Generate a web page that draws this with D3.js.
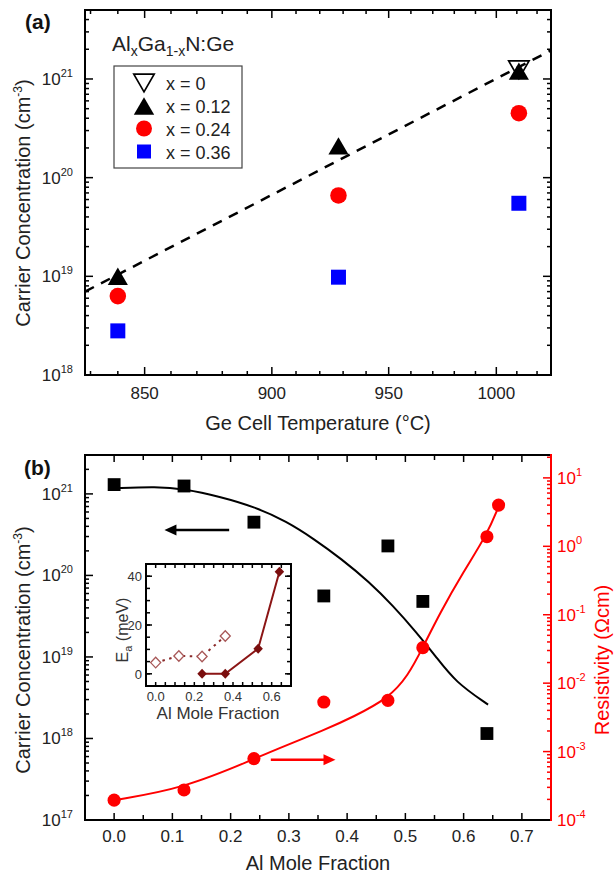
<!DOCTYPE html>
<html><head><meta charset="utf-8">
<script src="https://cdn.jsdelivr.net/npm/d3@7"></script>
<style>
body{margin:0;background:#fff;}
svg{display:block;}
text{font-family:"Liberation Sans",Arial,Helvetica,sans-serif;}
</style>
</head><body>
<svg id="c" width="614" height="880"></svg>
<script>
// ================= DATA =================
// Panel (a): carrier concentration vs Ge cell temperature
const tempA = [840, 928, 1011];
const concX0   = [null, null, 1.24e21];
const concX012 = [1.0e19, 2.1e20, 1.2e21];
const concX024 = [6.3e18, 6.6e19, 4.5e20];
const concX036 = [2.8e18, 9.8e18, 5.5e19];
const fitTempA = [828, 1027];
const fitConcA = [7.0e18, 1.95e21];
const tempTickMajor = [850, 900, 950, 1000];
const tempTickLabels = ["850", "900", "950", "1000"];
const legendLabelsA = ["x = 0", "x = 0.12", "x = 0.24", "x = 0.36"];

// Panel (b): carrier concentration & resistivity vs Al mole fraction
const alFrac   = [0, 0.12, 0.24, 0.36, 0.47, 0.53, 0.64];
const concB    = [1.3e21, 1.25e21, 4.5e20, 5.6e19, 2.3e20, 4.8e19, 1.15e18];
const resX     = [0, 0.12, 0.24, 0.36, 0.47, 0.53, 0.64, 0.66];
const resV     = [1.95e-4, 2.75e-4, 7.9e-4, 5.3e-3, 5.6e-3, 3.3e-2, 1.38, 4.0];
const fitConcX = [0, 0.073, 0.12, 0.181, 0.242, 0.296, 0.343, 0.39, 0.438, 0.478, 0.519, 0.552, 0.586, 0.642];
const fitConcY = [1.17e21, 1.23e21, 1.15e21, 9.3e20, 6.9e20, 4.6e20, 2.8e20, 1.6e20, 8.3e19, 4.3e19, 2.0e19, 1.02e19, 4.9e18, 2.6e18];
const fitResX  = [0, 0.12, 0.242, 0.275, 0.363, 0.41, 0.471, 0.505, 0.529, 0.559, 0.6, 0.64, 0.66];
const fitResY  = [1.95e-4, 2.9e-4, 7.9e-4, 1.05e-3, 2.1e-3, 3.2e-3, 6.0e-3, 1.3e-2, 3.2e-2, 0.105, 0.43, 1.48, 3.8];
const alTicks  = [0, 0.1, 0.2, 0.3, 0.4, 0.5, 0.6, 0.7];
const alTickLabels = ["0.0", "0.1", "0.2", "0.3", "0.4", "0.5", "0.6", "0.7"];
const arrowConc = {x: [0.1975, 0.0864], y: 3.6e20};
const arrowRes  = {x: [0.269, 0.380], y: 7.6e-4};

// Inset: activation energy
const insetOpenX   = [0, 0.12, 0.24, 0.36];
const insetOpenY   = [4.6, 7.3, 7.1, 15.5];
const insetFilledX = [0.24, 0.36, 0.53, 0.64];
const insetFilledY = [0, 0, 10.3, 41.8];
const insetXTicks  = [0, 0.2, 0.4, 0.6];
const insetXLabels = ["0.0", "0.2", "0.4", "0.6"];
const insetYTicks  = [0, 20, 40];
const insetYLabels = ["0", "20", "40"];

// ================= HELPERS =================
const svg = d3.select("#c");
function logTickVals(lo, hi) {
  const major = [], minor = [];
  for (let e = Math.floor(Math.log10(lo)); e <= Math.ceil(Math.log10(hi)); e++) {
    for (let k = 1; k < 10; k++) {
      const v = k * Math.pow(10, e);
      if (v >= lo * 0.999 && v <= hi * 1.001) (k === 1 ? major : minor).push(v);
    }
  }
  return {major, minor};
}
function ticksY(g, scale, vals, x, dir, len, color) {
  g.append("g").selectAll("line").data(vals).join("line")
    .attr("x1", x).attr("x2", x + dir * len)
    .attr("y1", d => scale(d)).attr("y2", d => scale(d))
    .attr("stroke", color).attr("stroke-width", 1.5);
}
function ticksX(g, fx, vals, y, dir, len, color) {
  g.append("g").selectAll("line").data(vals).join("line")
    .attr("y1", y).attr("y2", y + dir * len)
    .attr("x1", d => fx(d)).attr("x2", d => fx(d))
    .attr("stroke", color).attr("stroke-width", 1.5);
}
function powLabel(g, x, y, exp, anchor, color) {
  const t = g.append("text").attr("x", x).attr("y", y).attr("text-anchor", anchor)
    .attr("fill", color).style("font-size", "17px");
  t.append("tspan").text("10");
  t.append("tspan").attr("dy", -8).style("font-size", "11px").text(exp);
}
const triUp = {draw(ctx, size){ const s = Math.sqrt(size / 0.433), h = s * 0.866;
  ctx.moveTo(0, -h/2); ctx.lineTo(s/2, h/2); ctx.lineTo(-s/2, h/2); ctx.closePath(); }};
const triDown = {draw(ctx, size){ const s = Math.sqrt(size / 0.433), h = s * 0.866;
  ctx.moveTo(0, h/2); ctx.lineTo(s/2, -h/2); ctx.lineTo(-s/2, -h/2); ctx.closePath(); }};
const diamond = {draw(ctx, size){ const r = Math.sqrt(size / 2);
  ctx.moveTo(0, -r); ctx.lineTo(r*0.95, 0); ctx.lineTo(0, r); ctx.lineTo(-r*0.95, 0); ctx.closePath(); }};

// ================= PANEL (a) =================
const A = {l: 85, r: 551, t: 10, b: 375};
const invT = t => 1 / (t + 273.15);
const xInv = d3.scaleLinear().domain([invT(828), invT(1027)]).range([A.l, A.r]);
const xA = t => xInv(invT(t));
const yA = d3.scaleLog().domain([1e18, 5e21]).range([A.b, A.t]);
const gA = svg.append("g");

// dashed fit
gA.append("path")
  .attr("d", d3.line().x(d => xA(d[0])).y(d => yA(d[1]))(fitTempA.map((t, i) => [t, fitConcA[i]])))
  .attr("fill", "none").attr("stroke", "#000").attr("stroke-width", 2.5).attr("stroke-dasharray", "10,8");

// markers
const sym = d3.symbol();
function markersA(vals, type, size, fill, stroke, sw) {
  gA.append("g").selectAll("path").data(tempA.map((t, i) => [t, vals[i]]).filter(d => d[1] != null))
    .join("path")
    .attr("transform", d => `translate(${xA(d[0])},${yA(d[1])})`)
    .attr("d", sym.type(type).size(size)())
    .attr("fill", fill).attr("stroke", stroke).attr("stroke-width", sw);
}
markersA(concX036, d3.symbolSquare, 225, "#0000ff", "none", 0);
markersA(concX024, d3.symbolCircle, 215, "#ff0000", "none", 0);
markersA(concX012, triUp, 175, "#000", "none", 0);
markersA(concX0, triDown, 180, "none", "#000", 1.7);

// frame & ticks
const tA = logTickVals(1e18, 5e21);
ticksY(gA, yA, tA.major, A.l, 1, 8, "#000");
ticksY(gA, yA, tA.minor, A.l, 1, 4, "#000");
ticksY(gA, yA, tA.major, A.r, -1, 8, "#000");
ticksY(gA, yA, tA.minor, A.r, -1, 4, "#000");
const tempMinor = d3.range(830, 1021, 10).filter(t => !tempTickMajor.includes(t));
ticksX(gA, xA, tempTickMajor, A.b, -1, 8, "#000");
ticksX(gA, xA, tempMinor, A.b, -1, 4, "#000");
ticksX(gA, xA, tempTickMajor, A.t, 1, 8, "#000");
ticksX(gA, xA, tempMinor, A.t, 1, 4, "#000");
gA.append("rect").attr("x", A.l).attr("y", A.t).attr("width", A.r - A.l).attr("height", A.b - A.t)
  .attr("fill", "none").attr("stroke", "#000").attr("stroke-width", 2);

// tick labels
tA.major.forEach(v => powLabel(gA, 73, yA(v) + 6, String(Math.round(Math.log10(v))), "end", "#222"));
gA.append("g").selectAll("text").data(tempTickMajor).join("text")
  .attr("x", d => xA(d)).attr("y", 399).attr("text-anchor", "middle")
  .style("font-size", "17px").attr("fill", "#222").text((d, i) => tempTickLabels[i]);

// axis titles
gA.append("text").attr("x", 318).attr("y", 430).attr("text-anchor", "middle")
  .style("font-size", "20px").attr("fill", "#222").text("Ge Cell Temperature (°C)");
{
  const t = gA.append("text").attr("transform", "translate(30,203) rotate(-90)")
    .attr("text-anchor", "middle").style("font-size", "20px").attr("fill", "#222");
  t.append("tspan").text("Carrier Concentration (cm");
  t.append("tspan").attr("dy", -8).style("font-size", "12px").text("-3");
  t.append("tspan").attr("dy", 8).text(")");
}
gA.append("text").attr("x", 25).attr("y", 29).style("font-size", "21px").style("font-weight", "bold")
  .attr("fill", "#111").text("(a)");

// legend title
{
  const t = gA.append("text").attr("x", 112).attr("y", 51).style("font-size", "21px").attr("fill", "#222");
  t.append("tspan").text("Al");
  t.append("tspan").attr("dy", 5).style("font-size", "14px").text("x");
  t.append("tspan").attr("dy", -5).text("Ga");
  t.append("tspan").attr("dy", 5).style("font-size", "14px").text("1-x");
  t.append("tspan").attr("dy", -5).text("N:Ge");
}
// legend box
gA.append("rect").attr("x", 114).attr("y", 66).attr("width", 128).attr("height", 102)
  .attr("fill", "#fff").attr("stroke", "#444").attr("stroke-width", 1.2);
const legY = [83, 106, 128.5, 151.5];
const legSym = [
  {type: triDown, size: 180, fill: "none", stroke: "#000", sw: 1.7},
  {type: triUp, size: 180, fill: "#000", stroke: "none", sw: 0},
  {type: d3.symbolCircle, size: 200, fill: "#ff0000", stroke: "none", sw: 0},
  {type: d3.symbolSquare, size: 196, fill: "#0000ff", stroke: "none", sw: 0}
];
legSym.forEach((s, i) => {
  gA.append("path").attr("transform", `translate(144,${legY[i]})`)
    .attr("d", d3.symbol().type(s.type).size(s.size)())
    .attr("fill", s.fill).attr("stroke", s.stroke).attr("stroke-width", s.sw);
  gA.append("text").attr("x", 166).attr("y", legY[i] + 7).style("font-size", "18px")
    .attr("fill", "#222").text(legendLabelsA[i]);
});

// ================= PANEL (b) =================
const B = {l: 85, r: 551, t: 455, b: 820};
const xB = d3.scaleLinear().domain([-0.05, 0.75]).range([B.l, B.r]);
const yB = d3.scaleLog().domain([1e17, 3e21]).range([B.b, B.t]);
const yR = d3.scaleLog().domain([1e-4, 21.6]).range([B.b, B.t]);
const gB = svg.append("g");

// fit curves
gB.append("path")
  .attr("d", d3.line().curve(d3.curveBasis).x(d => xB(d[0])).y(d => yB(d[1]))(fitConcX.map((x, i) => [x, fitConcY[i]])))
  .attr("fill", "none").attr("stroke", "#000").attr("stroke-width", 2);
gB.append("path")
  .attr("d", d3.line().curve(d3.curveBasis).x(d => xB(d[0])).y(d => yR(d[1]))(fitResX.map((x, i) => [x, fitResY[i]])))
  .attr("fill", "none").attr("stroke", "#ff0000").attr("stroke-width", 2);

// markers
gB.append("g").selectAll("path").data(alFrac.map((x, i) => [x, concB[i]])).join("path")
  .attr("transform", d => `translate(${xB(d[0])},${yB(d[1])})`)
  .attr("d", d3.symbol().type(d3.symbolSquare).size(165)()).attr("fill", "#000");
gB.append("g").selectAll("path").data(resX.map((x, i) => [x, resV[i]])).join("path")
  .attr("transform", d => `translate(${xB(d[0])},${yR(d[1])})`)
  .attr("d", d3.symbol().type(d3.symbolCircle).size(135)()).attr("fill", "#ff0000");

// arrows
function arrow(g, x1, x2, y, color) {
  const dir = Math.sign(x2 - x1);
  g.append("line").attr("x1", x1).attr("x2", x2 - dir * 8).attr("y1", y).attr("y2", y)
    .attr("stroke", color).attr("stroke-width", 2.5);
  g.append("path").attr("d", `M${x2},${y} L${x2 - dir * 12},${y - 5.5} L${x2 - dir * 12},${y + 5.5} Z`).attr("fill", color);
}
arrow(gB, xB(arrowConc.x[0]), xB(arrowConc.x[1]), yB(arrowConc.y), "#000");
arrow(gB, xB(arrowRes.x[0]), xB(arrowRes.x[1]), yR(arrowRes.y), "#ff0000");

// frame & ticks
const tB = logTickVals(1e17, 3e21);
ticksY(gB, yB, tB.major, B.l, 1, 8, "#000");
ticksY(gB, yB, tB.minor, B.l, 1, 4, "#000");
const tR = logTickVals(1e-4, 21.6);
ticksY(gB, yR, tR.major, B.r, -1, 8, "#ff0000");
ticksY(gB, yR, tR.minor, B.r, -1, 4, "#ff0000");
const alMinor = d3.range(-0.05, 0.751, 0.1).map(v => +v.toFixed(2));
ticksX(gB, xB, alTicks, B.b, -1, 7, "#000");
ticksX(gB, xB, alMinor, B.b, -1, 5, "#000");
ticksX(gB, xB, alTicks, B.t, 1, 7, "#000");
ticksX(gB, xB, alMinor, B.t, 1, 5, "#000");
gB.append("path").attr("d", `M${B.r},${B.t} H${B.l} V${B.b} H${B.r}`)
  .attr("fill", "none").attr("stroke", "#000").attr("stroke-width", 2);
gB.append("line").attr("x1", B.r).attr("x2", B.r).attr("y1", B.t - 1).attr("y2", B.b + 1)
  .attr("stroke", "#ff0000").attr("stroke-width", 2);

// tick labels
tB.major.forEach(v => powLabel(gB, 73, yB(v) + 6, String(Math.round(Math.log10(v))), "end", "#222"));
tR.major.forEach(v => powLabel(gB, 557, yR(v) + 6, String(Math.round(Math.log10(v))), "start", "#ff0000"));
gB.append("g").selectAll("text").data(alTicks).join("text")
  .attr("x", d => xB(d)).attr("y", 842).attr("text-anchor", "middle")
  .style("font-size", "17px").attr("fill", "#222").text((d, i) => alTickLabels[i]);

// titles
gB.append("text").attr("x", 318).attr("y", 870).attr("text-anchor", "middle")
  .style("font-size", "20px").attr("fill", "#222").text("Al Mole Fraction");
{
  const t = gB.append("text").attr("transform", "translate(30,650) rotate(-90)")
    .attr("text-anchor", "middle").style("font-size", "20px").attr("fill", "#222");
  t.append("tspan").text("Carrier Concentration (cm");
  t.append("tspan").attr("dy", -8).style("font-size", "12px").text("-3");
  t.append("tspan").attr("dy", 8).text(")");
}
gB.append("text").attr("transform", "translate(609,660) rotate(-90)").attr("text-anchor", "middle")
  .style("font-size", "20px").attr("fill", "#ff0000").text("Resistivity (\u03A9cm)");
gB.append("text").attr("x", 24).attr("y", 475).style("font-size", "21px").style("font-weight", "bold")
  .attr("fill", "#111").text("(b)");

// ================= INSET =================
const I = {l: 146, r: 291, t: 564, b: 686};
const xI = d3.scaleLinear().domain([-0.05, 0.7]).range([I.l, I.r]);
const yI = d3.scaleLinear().domain([-5, 45]).range([I.b, I.t]);
const gI = svg.append("g");
gI.append("rect").attr("x", I.l).attr("y", I.t).attr("width", I.r - I.l).attr("height", I.b - I.t).attr("fill", "#fff");

const insetMinorX = d3.range(-0.05, 0.701, 0.05).map(v => +v.toFixed(2));
const insetMinorY = d3.range(-5, 45.1, 5);
ticksX(gI, xI, insetMinorX, I.b, -1, 4, "#000");
ticksX(gI, xI, insetMinorX, I.t, 1, 4, "#000");
ticksY(gI, yI, insetMinorY, I.l, 1, 4, "#000");
ticksY(gI, yI, insetMinorY, I.r, -1, 4, "#000");
ticksY(gI, yI, insetYTicks, I.l, 1, 6, "#000");
ticksY(gI, yI, insetYTicks, I.r, -1, 6, "#000");
gI.append("rect").attr("x", I.l).attr("y", I.t).attr("width", I.r - I.l).attr("height", I.b - I.t)
  .attr("fill", "none").attr("stroke", "#000").attr("stroke-width", 2);

gI.append("path")
  .attr("d", d3.line().x(d => xI(d[0])).y(d => yI(d[1]))(insetOpenX.map((x, i) => [x, insetOpenY[i]])))
  .attr("fill", "none").attr("stroke", "#8b2a2a").attr("stroke-width", 2).attr("stroke-dasharray", "2.5,4.5");
gI.append("path")
  .attr("d", d3.line().x(d => xI(d[0])).y(d => yI(d[1]))(insetFilledX.map((x, i) => [x, insetFilledY[i]])))
  .attr("fill", "none").attr("stroke", "#8b1515").attr("stroke-width", 2);
gI.append("g").selectAll("path").data(insetOpenX.map((x, i) => [x, insetOpenY[i]])).join("path")
  .attr("transform", d => `translate(${xI(d[0])},${yI(d[1])})`)
  .attr("d", d3.symbol().type(diamond).size(56)()).attr("fill", "#fff").attr("stroke", "#a85858").attr("stroke-width", 1.3);
gI.append("g").selectAll("path").data(insetFilledX.map((x, i) => [x, insetFilledY[i]])).join("path")
  .attr("transform", d => `translate(${xI(d[0])},${yI(d[1])})`)
  .attr("d", d3.symbol().type(diamond).size(50)()).attr("fill", "#7a0e0e");

gI.append("g").selectAll("text").data(insetXTicks).join("text")
  .attr("x", d => xI(d)).attr("y", 701).attr("text-anchor", "middle")
  .style("font-size", "13px").attr("fill", "#333").text((d, i) => insetXLabels[i]);
gI.append("g").selectAll("text").data(insetYTicks).join("text")
  .attr("x", 142).attr("y", d => yI(d) + 5).attr("text-anchor", "end")
  .style("font-size", "13px").attr("fill", "#333").text((d, i) => insetYLabels[i]);
gI.append("text").attr("x", 218).attr("y", 719).attr("text-anchor", "middle")
  .style("font-size", "17px").attr("fill", "#333").text("Al Mole Fraction");
{
  const t = gI.append("text").attr("transform", "translate(128,630) rotate(-90)")
    .attr("text-anchor", "middle").style("font-size", "16px").attr("fill", "#333");
  t.append("tspan").text("E");
  t.append("tspan").attr("dy", 4).style("font-size", "11px").text("a");
  t.append("tspan").attr("dy", -4).text(" (meV)");
}
</script>
</body></html>
